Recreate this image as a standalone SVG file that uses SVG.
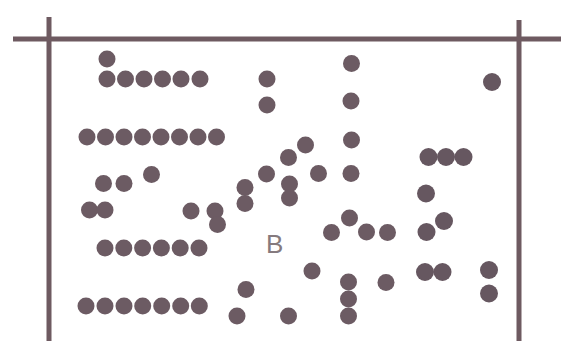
<svg xmlns="http://www.w3.org/2000/svg" width="570" height="341" viewBox="0 0 570 341">
<style>
.ln{stroke:#6e5a61;stroke-width:5;fill:none}
.d{fill:#6c5b63}
.s{fill:#665760}
.lbl{font-family:"Liberation Sans",Arial,sans-serif;font-size:26px;fill:#857a7e}
</style>
<defs>
<circle id="c" r="8.5"/>
<circle id="k" r="9"/>
</defs>
<rect width="570" height="341" fill="#ffffff"/>
<g id="frame">
<line class="ln" x1="13" y1="39" x2="561" y2="39"/>
<line class="ln" x1="49" y1="17" x2="49" y2="341"/>
<line class="ln" x1="519" y1="20" x2="519" y2="341"/>
</g>
<g id="dots" class="d">
<use href="#c" x="107" y="59"/>
<use href="#c" x="107" y="79"/><use href="#c" x="125.5" y="79"/><use href="#c" x="144" y="79"/><use href="#c" x="162.5" y="79"/><use href="#c" x="181" y="79"/><use href="#c" x="200" y="79"/>
<use href="#c" x="267" y="79"/><use href="#c" x="267" y="105"/>
<use href="#c" x="87" y="137"/><use href="#c" x="105.5" y="137"/><use href="#c" x="124" y="137"/><use href="#c" x="142.5" y="137"/><use href="#c" x="161" y="137"/><use href="#c" x="179.5" y="137"/><use href="#c" x="198" y="137"/><use href="#c" x="216.5" y="137"/>
<use href="#c" x="103.5" y="183.5"/><use href="#c" x="124" y="183.5"/><use href="#c" x="151.5" y="174.5"/>
<use href="#c" x="89.5" y="210"/><use href="#c" x="105" y="210"/><use href="#c" x="191" y="211"/><use href="#c" x="215" y="211"/><use href="#c" x="217.5" y="224.5"/>
<use href="#c" x="245" y="187.5"/><use href="#c" x="245" y="203.5"/>
<use href="#c" x="266.5" y="174"/>
<use href="#c" x="288.5" y="157.5"/><use href="#c" x="305.5" y="145"/>
<use href="#c" x="289.5" y="184"/><use href="#c" x="289.5" y="198"/>
<use href="#c" x="318.5" y="173.5"/>
<use href="#c" x="351.5" y="63.5"/><use href="#c" x="351" y="101"/><use href="#c" x="351.5" y="140"/><use href="#c" x="351" y="173.5"/>
<use href="#c" x="349.5" y="218"/><use href="#c" x="331.5" y="232.5"/><use href="#c" x="366.5" y="232"/><use href="#c" x="387.5" y="232.5"/>
<use href="#c" x="105" y="248"/><use href="#c" x="123.8" y="248"/><use href="#c" x="142.6" y="248"/><use href="#c" x="161.4" y="248"/><use href="#c" x="180.2" y="248"/><use href="#c" x="199" y="248"/>
<use href="#c" x="246" y="289.5"/><use href="#c" x="237" y="316"/><use href="#c" x="288.5" y="316"/><use href="#c" x="312" y="271"/>
<use href="#c" x="348.5" y="282"/><use href="#c" x="348.5" y="299"/><use href="#c" x="348.5" y="316"/>
<use href="#c" x="386" y="282.5"/>
<use href="#c" x="86" y="306"/><use href="#c" x="105" y="306"/><use href="#c" x="124" y="306"/><use href="#c" x="142.7" y="306"/><use href="#c" x="161.7" y="306"/><use href="#c" x="180.7" y="306"/><use href="#c" x="199.3" y="306"/>
</g>
<g id="solid-dots" class="s">
<use href="#k" x="492" y="82"/>
<use href="#k" x="428.5" y="157"/><use href="#k" x="446" y="157"/><use href="#k" x="463.5" y="157"/>
<use href="#k" x="426" y="193.5"/><use href="#k" x="444" y="221"/><use href="#k" x="426.5" y="232"/>
<use href="#k" x="425" y="272"/><use href="#k" x="442.5" y="272"/>
<use href="#k" x="489" y="270"/><use href="#k" x="489" y="293.5"/>
</g>
<g id="label-B">
<text class="lbl" x="266" y="253">B</text>
</g>
</svg>
